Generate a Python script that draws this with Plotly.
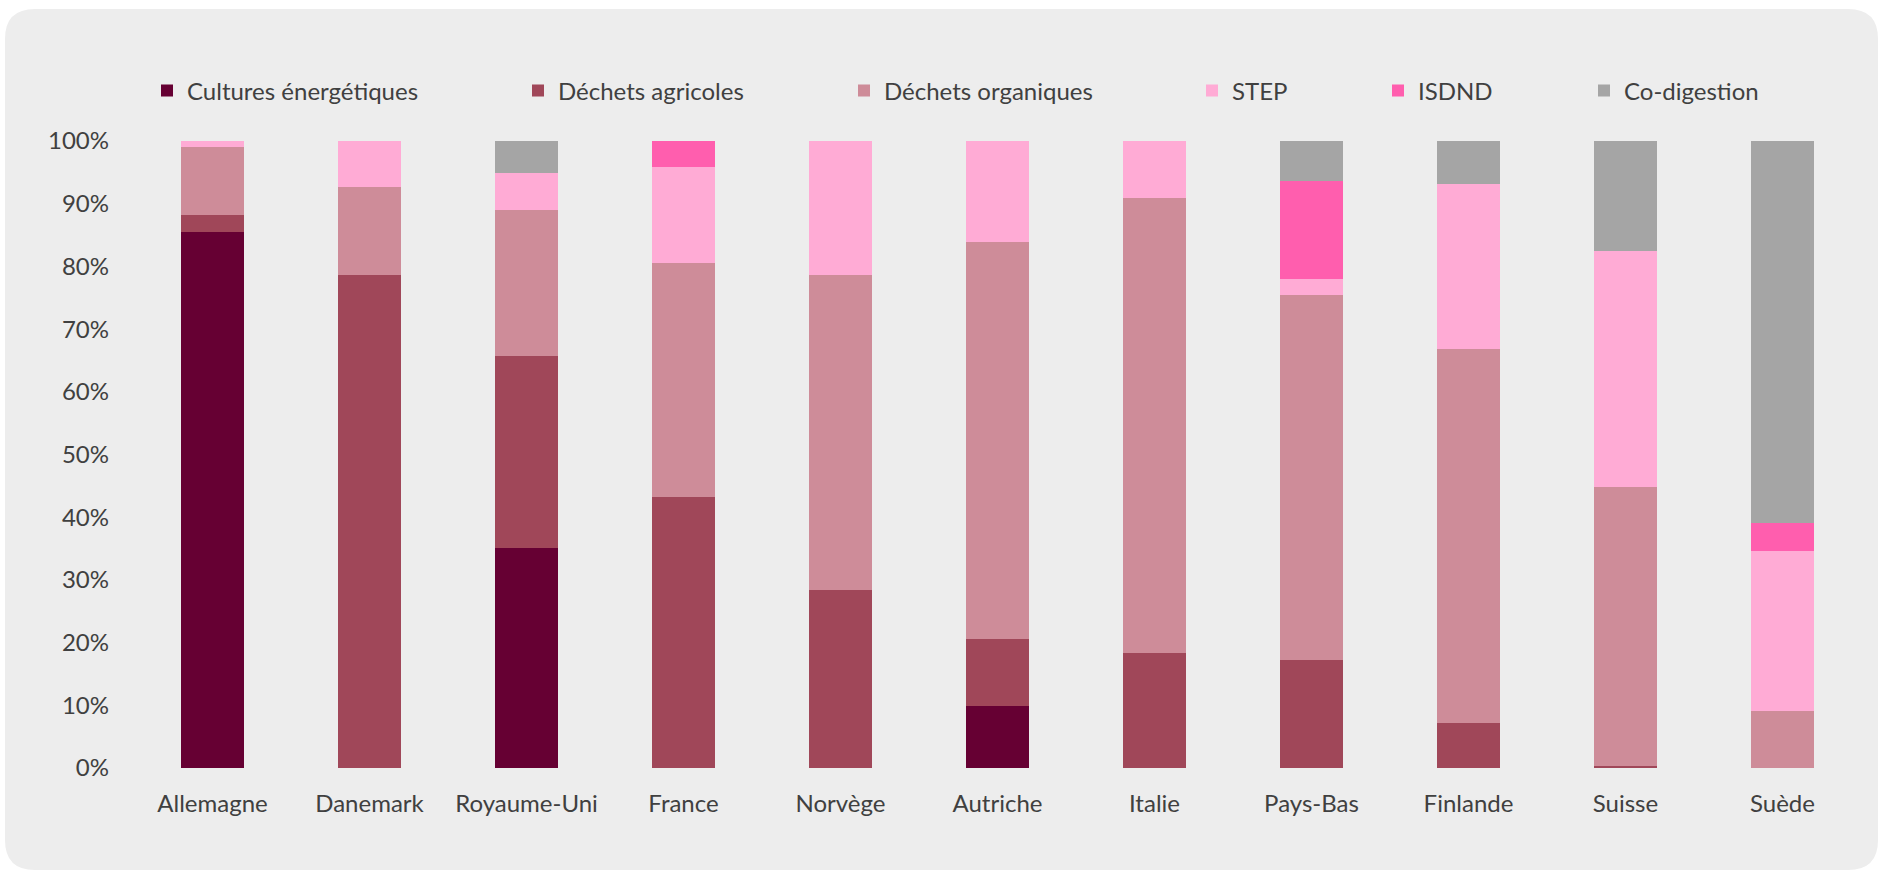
import plotly.graph_objects as go

countries = ["Allemagne", "Danemark", "Royaume-Uni", "France", "Norvège", "Autriche",
             "Italie", "Pays-Bas", "Finlande", "Suisse", "Suède"]

# share of each feedstock (%)
cultures_energetiques = [85.5, 0, 35.1, 0, 0, 9.9, 0, 0, 0, 0, 0]
dechets_agricoles = [2.7, 78.6, 30.6, 43.2, 28.4, 10.7, 18.3, 17.3, 7.2, 0.3, 0]
dechets_organiques = [10.8, 14.0, 23.3, 37.3, 50.3, 63.3, 72.6, 58.1, 59.6, 44.5, 9.1]
step = [1.0, 7.4, 5.9, 15.3, 21.3, 16.1, 9.1, 2.6, 26.3, 37.7, 25.5]
isdnd = [0, 0, 0, 4.2, 0, 0, 0, 15.7, 0, 0, 4.5]
co_digestion = [0, 0, 5.1, 0, 0, 0, 0, 6.3, 6.9, 17.5, 60.9]

y_ticks = list(range(0, 101, 10))

series = [
    ("Cultures énergétiques", cultures_energetiques, "#660033"),
    ("Déchets agricoles", dechets_agricoles, "#A04759"),
    ("Déchets organiques", dechets_organiques, "#CE8C99"),
    ("STEP", step, "#FFABD5"),
    ("ISDND", isdnd, "#FF5EAE"),
    ("Co-digestion", co_digestion, "#A5A5A5"),
]

W, H = 1883, 872
L, R, T, B = 134, 22, 141, 104
pw, ph = W - L - R, H - T - B
FONT = "Lato, 'Open Sans', sans-serif"
TXT = "#404040"


def xp(px):
    return (px - L) / pw


def yp(py):
    return (H - B - py) / ph


# one legend per series so each entry sits where the original puts it
legend_names = ["legend", "legend2", "legend3", "legend4", "legend5", "legend6"]
legend_px = [147, 518, 844, 1192, 1378, 1584]

fig = go.Figure()
for i, (name, vals, color) in enumerate(series):
    fig.add_trace(go.Bar(
        x=countries,
        y=[v if v else None for v in vals],
        name=name,
        marker=dict(color=color, line=dict(width=0)),
        legend=legend_names[i],
        showlegend=True,
        hovertemplate="%{x}<br>" + name + ": %{y:.1f}%<extra></extra>",
    ))

layout_legends = {}
for key, px in zip(legend_names, legend_px):
    layout_legends[key] = dict(
        x=xp(px), xanchor="left",
        y=yp(91), yanchor="middle",
        orientation="h",
        bgcolor="rgba(0,0,0,0)",
        font=dict(family=FONT, size=24, color=TXT),
        itemwidth=30,
        visible=True,
    )

# rounded grey panel behind the chart
x0, x1, y0, y1, r = 5, 1878, 9, 870, 30
panel = (
    f"M {xp(x0 + r)},{yp(y0)} L {xp(x1 - r)},{yp(y0)} "
    f"Q {xp(x1)},{yp(y0)} {xp(x1)},{yp(y0 + r)} "
    f"L {xp(x1)},{yp(y1 - r)} Q {xp(x1)},{yp(y1)} {xp(x1 - r)},{yp(y1)} "
    f"L {xp(x0 + r)},{yp(y1)} Q {xp(x0)},{yp(y1)} {xp(x0)},{yp(y1 - r)} "
    f"L {xp(x0)},{yp(y0 + r)} Q {xp(x0)},{yp(y0)} {xp(x0 + r)},{yp(y0)} Z"
)

fig.update_layout(
    width=W, height=H,
    margin=dict(l=L, r=R, t=T, b=B),
    barmode="stack",
    bargap=0.6,
    showlegend=True,
    paper_bgcolor="white",
    plot_bgcolor="rgba(0,0,0,0)",
    font=dict(family=FONT, size=24, color=TXT),
    shapes=[dict(type="path", path=panel, xref="paper", yref="paper",
                 fillcolor="#EDEDED", line=dict(width=0), layer="below")],
    **layout_legends,
)
fig.update_yaxes(
    range=[0, 100], tickvals=y_ticks, ticktext=[f"{t}%" for t in y_ticks],
    showgrid=False, zeroline=False, showline=False, ticks="",
    ticklabelstandoff=24, fixedrange=True,
)
fig.update_xaxes(
    showgrid=False, zeroline=False, showline=False, ticks="",
    ticklabelstandoff=19, fixedrange=True,
)

fig.write_html("out.html", config={"displayModeBar": False},
               post_script="document.body.style.margin='0';")
